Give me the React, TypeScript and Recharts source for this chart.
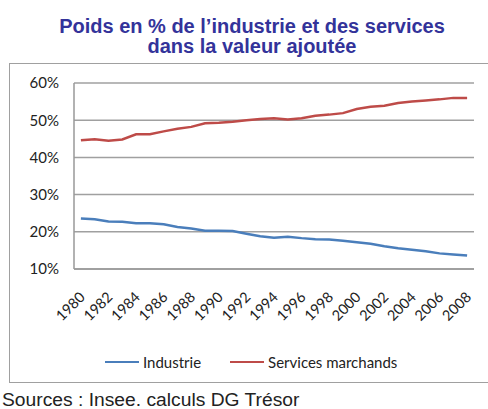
import React from 'react';
import { LineChart, Line, XAxis, YAxis, CartesianGrid } from 'recharts';

const years = ['1980','1981','1982','1983','1984','1985','1986','1987','1988','1989','1990','1991','1992','1993','1994','1995','1996','1997','1998','1999','2000','2001','2002','2003','2004','2005','2006','2007','2008'];
const industrie = [23.6, 23.4, 22.8, 22.7, 22.3, 22.3, 22.0, 21.3, 20.9, 20.3, 20.3, 20.2, 19.5, 18.8, 18.4, 18.7, 18.3, 18.0, 17.9, 17.6, 17.2, 16.8, 16.1, 15.6, 15.2, 14.8, 14.2, 13.9, 13.6];
const services = [44.6, 44.9, 44.5, 44.8, 46.2, 46.2, 47.0, 47.7, 48.2, 49.2, 49.3, 49.6, 50.0, 50.3, 50.5, 50.2, 50.5, 51.2, 51.5, 51.9, 53.0, 53.6, 53.9, 54.6, 55.0, 55.3, 55.6, 56.0, 56.0];
const yTicks = [10, 20, 30, 40, 50, 60];
const seriesNames = ['Industrie', 'Services marchands'];
const seriesColors = ['#4a7ebb', '#be4b48'];

const data = years.map((y, i) => ({ year: y, industrie: industrie[i], services: services[i] }));

const XTick = (props: any) => {
  const { x, payload } = props;
  return (
    <g transform={`translate(${x + 5},${298}) rotate(-45)`}>
      <text x={0} y={0} textAnchor="end" fontFamily="Lato" fontSize={14.5} fill="#222">{payload.value}</text>
    </g>
  );
};

export default function App() {
  return (
    <div style={{ position: 'absolute', left: 0, top: 0, width: 488, height: 409, background: '#fff', overflow: 'hidden' }}>
      <div style={{ position: 'absolute', left: 8, top: 16, width: 488, textAlign: 'center', fontFamily: '"Liberation Sans", Arial, sans-serif', fontWeight: 'bold', fontSize: 20, lineHeight: '20px', color: '#33339a' }}>
        Poids en % de l’industrie et des services<br />dans la valeur ajoutée
      </div>
      <div style={{ position: 'absolute', left: 9, top: 63, width: 480, height: 320, border: '1.5px solid #a0a0a0', boxSizing: 'border-box' }} />
      <div style={{ position: 'absolute', left: 0, top: 0 }}>
        <LineChart width={488} height={409} data={data} margin={{ top: 83, right: 14, left: 0, bottom: 0 }}>
          <CartesianGrid vertical={false} stroke="#a0a0a0" strokeWidth={1.5} />
          <XAxis dataKey="year" height={140} interval={1} padding={{ left: 6.9, right: 6.9 }} tickLine={false} axisLine={{ stroke: '#999', strokeWidth: 1.5 }} tick={<XTick />} />
          <YAxis width={74} domain={[10, 60]} ticks={yTicks} tickFormatter={(v: number) => `${v}%`} tickLine={false} tickSize={0} tickMargin={15} axisLine={{ stroke: '#999', strokeWidth: 1.5 }} tick={{ fontFamily: 'Lato', fontSize: 15, fill: '#222' }} />
          <Line type="linear" dataKey="industrie" name={seriesNames[0]} stroke={seriesColors[0]} strokeWidth={2.5} dot={false} isAnimationActive={false} />
          <Line type="linear" dataKey="services" name={seriesNames[1]} stroke={seriesColors[1]} strokeWidth={2.5} dot={false} isAnimationActive={false} />
        </LineChart>
      </div>
      <div style={{ position: 'absolute', left: 105, top: 353, display: 'flex', alignItems: 'center', fontFamily: 'Lato', fontSize: 15, lineHeight: '18px', color: '#222' }}>
        {seriesNames.map((n, i) => (
          <div key={n} style={{ display: 'flex', alignItems: 'center', marginLeft: i === 0 ? 0 : 29 }}>
            <div style={{ width: 34, height: 2.5, background: seriesColors[i], marginRight: 4 }} />
            <span>{n}</span>
          </div>
        ))}
      </div>
      <div style={{ position: 'absolute', left: 2, top: 392, fontFamily: '"Liberation Sans", Arial, sans-serif', fontSize: 17.5, lineHeight: 1, color: '#222', transform: 'scaleX(1.1)', transformOrigin: 'left top', whiteSpace: 'nowrap' }}>
        Sources : Insee. calculs DG Trésor
      </div>
    </div>
  );
}
